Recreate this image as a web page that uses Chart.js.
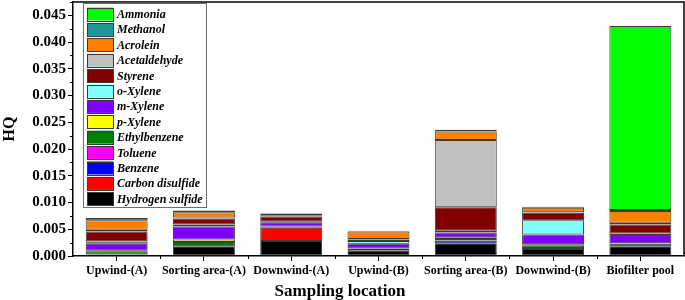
<!DOCTYPE html>
<html lang="en">
<head>
    <meta charset="UTF-8">
    <title>HQ by sampling location</title>
    <script src="https://cdn.jsdelivr.net/npm/chart.js"></script>
    <style>
        body {
            margin: 0;
            background: #fff;
        }
    </style>
</head>
<body>
    <canvas id="myChart" width="685" height="300"></canvas>

    <script>
        // Categories and stacked series (bottom of the stack first)
        const locations = ["Upwind-(A)", "Sorting area-(A)", "Downwind-(A)", "Upwind-(B)",
                           "Sorting area-(B)", "Downwind-(B)", "Biofilter pool"];

        const hydrogenSulfide = [0.0002, 0.0018, 0.0028, 0.0010, 0.0024, 0.0013, 0.0018];
        const carbonDisulfide = [0, 0, 0.0025, 0, 0, 0, 0];
        const benzene         = [0.0001, 0, 0.0002, 0, 0.0005, 0.0002, 0];
        const toluene         = [0, 0, 0, 0, 0, 0, 0];
        const ethylbenzene    = [0.0006, 0.0008, 0, 0.0003, 0.0003, 0.0005, 0.0005];
        const pXylene         = [0.0001, 0.0005, 0, 0.0001, 0.0003, 0.0002, 0.0001];
        const mXylene         = [0.0013, 0.0024, 0.0008, 0.0009, 0.0009, 0.0018, 0.0017];
        const oXylene         = [0.0004, 0.0004, 0.0002, 0.0005, 0.0003, 0.0027, 0.0001];
        const styrene         = [0.0019, 0.0011, 0.0009, 0.0003, 0.0044, 0.0014, 0.0017];
        const acetaldehyde    = [0.0003, 0.0002, 0.0002, 0.0001, 0.0126, 0.0001, 0.0003];
        const acrolein        = [0.0018, 0.0010, 0.0003, 0.0014, 0.0016, 0.0008, 0.0022];
        const methanol        = [0.0004, 0.0003, 0.0001, 0.0001, 0.0003, 0.0002, 0.0002];
        const ammonia         = [0, 0, 0, 0, 0, 0, 0.0344];

        const seriesNames = ["Hydrogen sulfide", "Carbon disulfide", "Benzene", "Toluene", "Ethylbenzene",
                             "p-Xylene", "m-Xylene", "o-Xylene", "Styrene", "Acetaldehyde",
                             "Acrolein", "Methanol", "Ammonia"];
        const seriesValues = [hydrogenSulfide, carbonDisulfide, benzene, toluene, ethylbenzene,
                              pXylene, mXylene, oXylene, styrene, acetaldehyde,
                              acrolein, methanol, ammonia];
        const seriesColors = ["#000000", "#ff0000", "#0000ff", "#ff00ff", "#008000",
                              "#ffff00", "#8000ff", "#80ffff", "#800000", "#c0c0c0",
                              "#ff8000", "#1e9696", "#00ff00"];

        const yTicks = [0, 0.005, 0.010, 0.015, 0.020, 0.025, 0.030, 0.035, 0.040, 0.045];

        const SERIF = "'Liberation Serif', 'Times New Roman', serif";

        // Frame, minor ticks, inside legend and centred x title
        const extras = {
            id: 'extras',
            afterDraw(chart) {
                const ctx = chart.ctx;
                const area = chart.chartArea;
                const x = chart.scales.x;
                const y = chart.scales.y;
                ctx.save();

                // top and right edges of the frame
                ctx.strokeStyle = '#000';
                ctx.lineWidth = 1.5;
                ctx.beginPath();
                ctx.moveTo(area.left, area.top);
                ctx.lineTo(area.right, area.top);
                ctx.lineTo(area.right, area.bottom);
                ctx.stroke();

                // minor ticks
                ctx.lineWidth = 1;
                ctx.beginPath();
                for (let i = 0; i < yTicks.length; i++) {
                    const py = Math.round(y.getPixelForValue(yTicks[i] + 0.0025)) + 0.5;
                    if (py < area.top) continue;
                    ctx.moveTo(area.left - 3, py);
                    ctx.lineTo(area.left, py);
                }
                for (let i = 1; i < locations.length; i++) {
                    const px = Math.round((x.getPixelForValue(i - 1) + x.getPixelForValue(i)) / 2) + 0.5;
                    ctx.moveTo(px, area.bottom);
                    ctx.lineTo(px, area.bottom + 3);
                }
                ctx.stroke();

                // legend box
                const lx = area.left + 10, ly = area.top + 1, lw = 123, lh = 204;
                ctx.fillStyle = '#fff';
                ctx.fillRect(lx, ly, lw, lh);
                ctx.strokeStyle = '#707070';
                ctx.strokeRect(lx + 0.5, ly + 0.5, lw, lh);

                ctx.font = 'italic bold 12px ' + SERIF;
                ctx.textBaseline = 'middle';
                const n = chart.data.datasets.length;
                for (let k = 0; k < n; k++) {
                    const ds = chart.data.datasets[n - 1 - k];
                    const cy = ly + 11 + k * 15.4;
                    ctx.fillStyle = ds.backgroundColor;
                    ctx.fillRect(lx + 4, cy - 6.5, 26, 13);
                    ctx.strokeStyle = '#3a3a3a';
                    ctx.strokeRect(lx + 4.5, Math.round(cy - 6.5) + 0.5, 26, 13);
                    ctx.fillStyle = '#000';
                    ctx.fillText(ds.label, lx + 34, cy + 1);
                }

                // x axis title
                ctx.font = 'bold 17px ' + SERIF;
                ctx.textAlign = 'center';
                ctx.textBaseline = 'alphabetic';
                ctx.fillStyle = '#000';
                ctx.fillText('Sampling location', 340, 296);
                ctx.restore();
            }
        };

        function renderChart() {
            const ctx = document.getElementById('myChart').getContext('2d');
            new Chart(ctx, {
                type: 'bar',
                data: {
                    labels: locations,
                    datasets: seriesNames.map((name, i) => ({
                        label: name,
                        data: seriesValues[i],
                        backgroundColor: seriesColors[i],
                        borderColor: '#3a3a3a',
                        borderWidth: 1,
                        borderSkipped: false,
                        barPercentage: 0.71,
                        categoryPercentage: 1
                    }))
                },
                options: {
                    responsive: false,
                    animation: false,
                    devicePixelRatio: 1,
                    layout: { padding: { top: 2, right: 1, left: 0, bottom: 0 } },
                    plugins: {
                        legend: { display: false },
                        tooltip: { enabled: false }
                    },
                    scales: {
                        x: {
                            stacked: true,
                            grid: { offset: false, drawOnChartArea: false, tickLength: 5, color: '#000' },
                            border: { color: '#000', width: 1.5 },
                            ticks: {
                                color: '#000',
                                font: { family: SERIF, size: 12, weight: 'bold' },
                                padding: 3,
                                maxRotation: 0,
                                autoSkip: false
                            },
                            afterFit: s => { s.height = 44; }
                        },
                        y: {
                            stacked: true,
                            min: 0,
                            max: 0.0475,
                            grid: { drawOnChartArea: false, tickLength: 5, color: '#000' },
                            border: { color: '#000', width: 1.5 },
                            ticks: {
                                stepSize: 0.005,
                                color: '#000',
                                font: { family: SERIF, size: 15, weight: 'bold' },
                                padding: 2,
                                callback: v => v.toFixed(3)
                            },
                            afterBuildTicks: s => {
                                s.ticks = yTicks.map(v => ({ value: v }));
                            },
                            title: {
                                display: true,
                                text: 'HQ',
                                color: '#000',
                                font: { family: SERIF, size: 16, weight: 'bold' },
                                padding: 0
                            },
                            afterFit: s => {
                                s.width = 73;
                                s.paddingTop = 0;
                                s.paddingBottom = 0;
                            }
                        }
                    }
                },
                plugins: [extras]
            });
        }

        renderChart();
    </script>
</body>
</html>
